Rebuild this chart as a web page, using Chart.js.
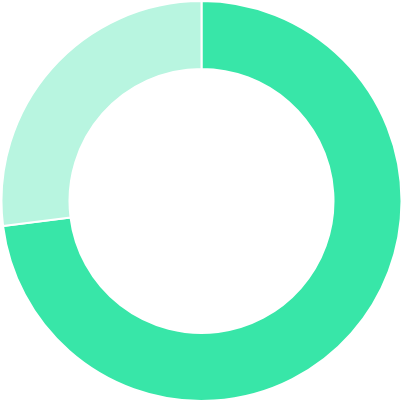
<!DOCTYPE html>
<html><head><meta charset="utf-8">
<script src="https://cdn.jsdelivr.net/npm/chart.js@4/dist/chart.umd.min.js"></script>
<style>html,body{margin:0;padding:0;background:#fff}#wrap{width:403px;height:402px}</style>
</head><body><div id="wrap"><canvas id="c"></canvas></div>
<script>
const categories = ['A', 'B'];
const values = [73, 27];
const colors = ['#38E6A8', '#B8F5E0'];
new Chart(document.getElementById('c'), {
  type: 'doughnut',
  data: { labels: categories, datasets: [{ data: values, backgroundColor: colors, borderColor: '#ffffff', borderWidth: 2 }] },
  options: {
    responsive: true, maintainAspectRatio: false, animation: false,
    cutout: '66%',
    plugins: { legend: { display: false }, tooltip: { enabled: false } },
    layout: { padding: 0 }
  }
});
</script></body></html>
